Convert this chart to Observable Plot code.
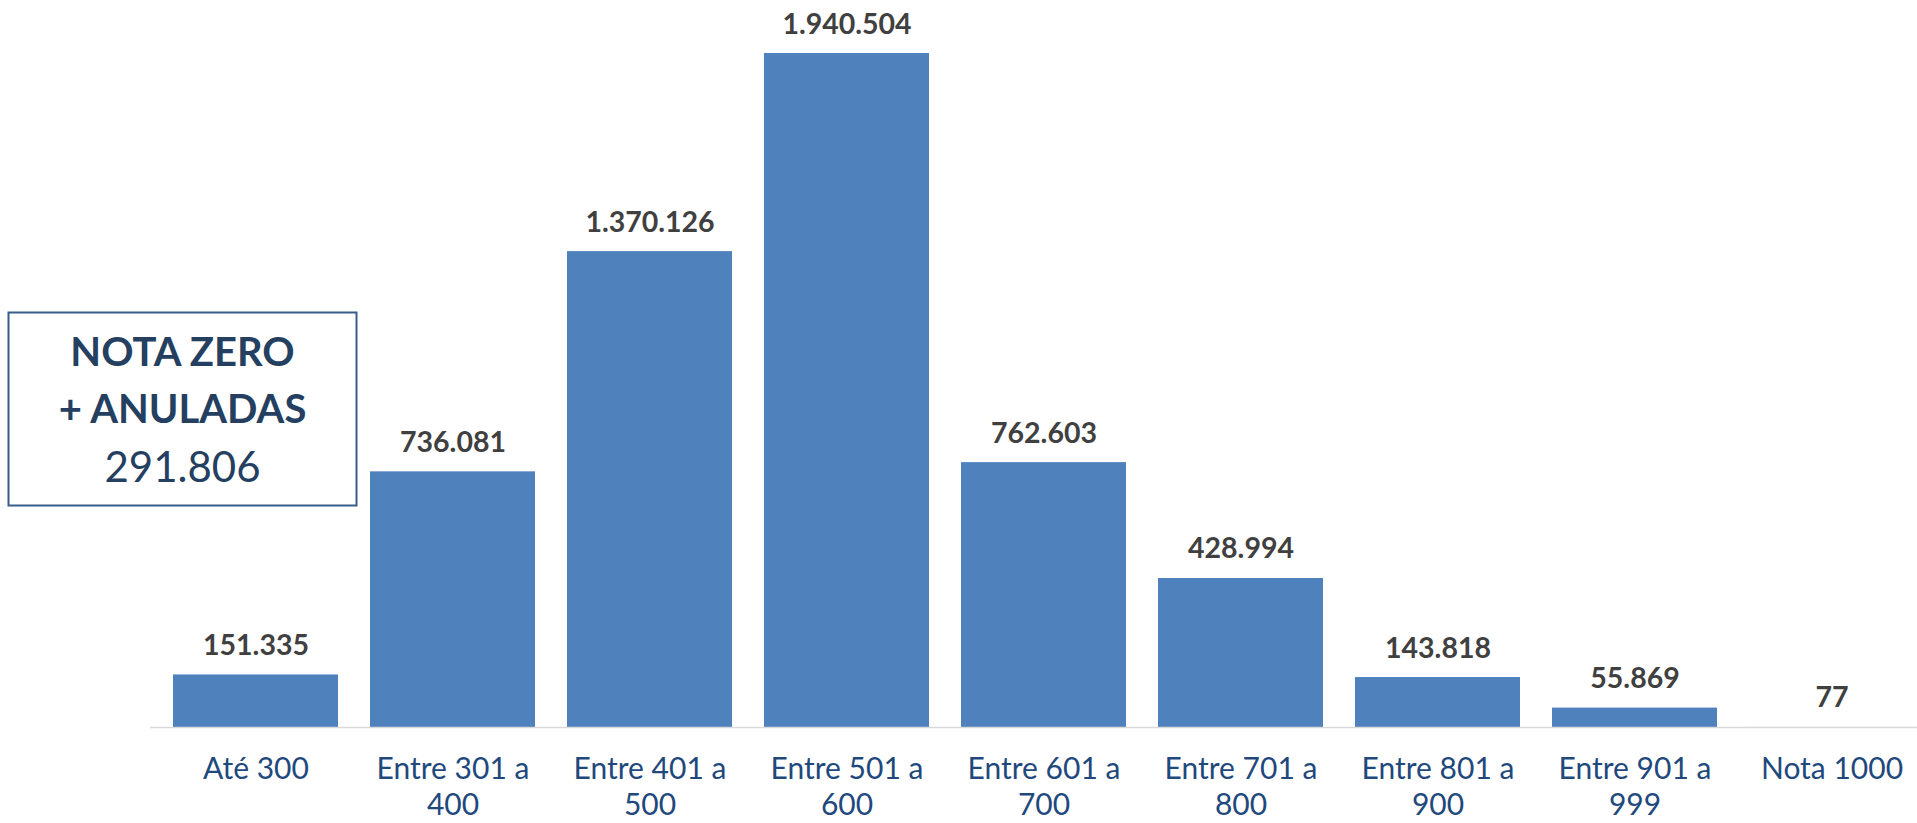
<!DOCTYPE html>
<html>
<head>
<meta charset="utf-8">
<script src="https://cdn.jsdelivr.net/npm/d3@7"></script>
<script src="https://cdn.jsdelivr.net/npm/@observablehq/plot@0.6"></script>
<style>
  html, body { margin: 0; padding: 0; background: #ffffff; }
  #chart { position: relative; width: 1917px; height: 823px; }
  svg { font-family: Lato, "Open Sans", sans-serif; }
</style>
</head>
<body>
<div id="chart"></div>
<script>
// ---- data ----
const categories = ["Até 300", "Entre 301 a 400", "Entre 401 a 500", "Entre 501 a 600", "Entre 601 a 700", "Entre 701 a 800", "Entre 801 a 900", "Entre 901 a 999", "Nota 1000"];
const tickLabels = ["Até 300\n", "Entre 301 a\n400", "Entre 401 a\n500", "Entre 501 a\n600", "Entre 601 a\n700", "Entre 701 a\n800", "Entre 801 a\n900", "Entre 901 a\n999", "Nota 1000\n"];
const counts = [151335, 736081, 1370126, 1940504, 762603, 428994, 143818, 55869, 77];
const boxTitle = ["NOTA ZERO", "+ ANULADAS"];
const boxValue = 291806;

const ptBR = d3.formatLocale({decimal: ",", thousands: ".", grouping: [3], currency: ["R$", ""]});
const fmt = ptBR.format(",d");

const data = categories.map((c, i) => ({category: c, value: counts[i]}));
const labelOf = new Map(categories.map((c, i) => [c, tickLabels[i]]));

const W = 1917, H = 823;
const tickFont = 30;
const tickLine = 37;

const plot = Plot.plot({
  width: W,
  height: H,
  marginTop: 53,
  marginBottom: 96,
  marginLeft: 150,
  marginRight: 0,
  x: {type: "band", domain: categories, range: [155, 1932], paddingInner: 0.164, paddingOuter: 0.082, align: 0.5},
  y: {domain: [0, d3.max(counts)], axis: null},
  marks: [
    Plot.barY(data, {x: "category", y: "value", fill: "#4f81bd"}),
    Plot.ruleY([0], {stroke: "#d9d9d9", strokeWidth: 1.6}),
    Plot.text(data, {
      x: "category", y: "value", text: d => fmt(d.value),
      dy: -20, lineAnchor: "bottom", fontSize: 28.5, fontWeight: "bold", fill: "#404040"
    }),
    Plot.axisX({
      tickSize: 0, tickPadding: 51 - 0.71 * tickLine, fontSize: tickFont, lineHeight: tickLine / tickFont,
      tickFormat: d => labelOf.get(d), fill: "#1f497d", label: null
    })
  ]
});

document.getElementById("chart").appendChild(plot);

// annotation box (NOTA ZERO + ANULADAS)
const svg = d3.select(plot);
const g = svg.append("g");
g.append("rect")
  .attr("x", 8.5).attr("y", 312.5).attr("width", 348).attr("height", 193)
  .attr("fill", "#ffffff").attr("stroke", "#385d8a").attr("stroke-width", 2);
const cx = 182.5;
g.append("text").attr("x", cx).attr("y", 366).attr("text-anchor", "middle")
  .attr("font-size", 40).attr("font-weight", "bold").attr("fill", "#243f60").text(boxTitle[0]);
g.append("text").attr("x", cx).attr("y", 423).attr("text-anchor", "middle")
  .attr("font-size", 40).attr("font-weight", "bold").attr("fill", "#243f60").text(boxTitle[1]);
g.append("text").attr("x", cx).attr("y", 482).attr("text-anchor", "middle")
  .attr("font-size", 42).attr("fill", "#243f60").text(fmt(boxValue));
</script>
</body>
</html>
